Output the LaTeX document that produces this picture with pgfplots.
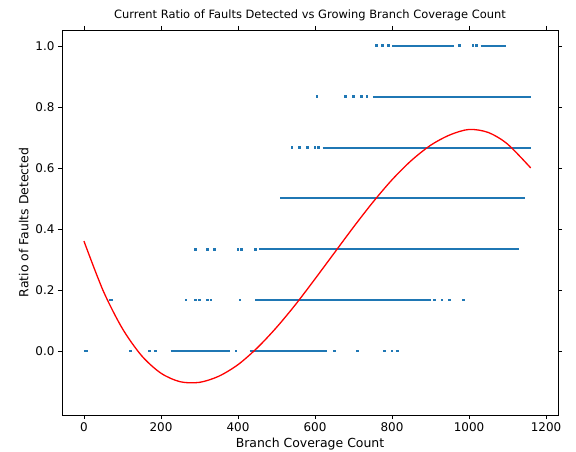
\documentclass[border=0pt]{standalone}
\usepackage{pgfplots}
\pgfplotsset{compat=1.18}
\usepackage{fontspec}
\setmainfont{DejaVu Sans}
\definecolor{cz}{HTML}{1F77B4}
\begin{document}
\begin{tikzpicture}
\begin{axis}[scale only axis, width=496bp, height=385bp,
 xmin=-57, xmax=1231, ymin=-0.21, ymax=1.052,
 xtick={0,200,...,1200}, ytick={0,0.2,...,1.0},
 xticklabel style={/pgf/number format/.cd,1000 sep={}},
 yticklabel style={/pgf/number format/.cd,fixed,fixed zerofill,precision=1},
 /pgf/number format/assume math mode=true,
 tick align=outside, tick style={black}, major tick length=4bp,
 ticklabel style={font=\fontsize{12}{14}\selectfont},
 label style={font=\fontsize{12.5}{14}\selectfont},
 title style={font=\fontsize{11.5}{14}\selectfont},
 title={Current Ratio of Faults Detected vs Growing Branch Coverage Count},
 xlabel={Branch Coverage Count}, ylabel={Ratio of Faults Detected},
 every axis plot/.append style={cz, line width=2bp}]
\coordinate (ll) at (rel axis cs:0,0);
\coordinate (ur) at (rel axis cs:1,1);
% dense bands
\addplot[no marks] coordinates {(0,0) (10,0)};
\addplot[no marks] coordinates {(225,0) (380,0)};
\addplot[no marks] coordinates {(430,0) (630,0)};
\addplot[no marks] coordinates {(65,0.1667) (75,0.1667)};
\addplot[no marks] coordinates {(445,0.1667) (900,0.1667)};
\addplot[no marks] coordinates {(455,0.3333) (1130,0.3333)};
\addplot[no marks] coordinates {(510,0.5) (1145,0.5)};
\addplot[no marks] coordinates {(620,0.6667) (1160,0.6667)};
\addplot[no marks] coordinates {(750,0.8333) (1160,0.8333)};
\addplot[no marks] coordinates {(800,1) (960,1)};
\addplot[no marks] coordinates {(1030,1) (1095,1)};
% sparse points
\addplot[only marks, mark=square*, mark size=0.9bp, line width=0pt] coordinates {
(120,0) (170,0) (185,0) (395,0) (650,0) (710,0) (780,0) (800,0) (815,0)
(265,0.1667) (290,0.1667) (300,0.1667) (320,0.1667) (330,0.1667) (405,0.1667) (910,0.1667) (930,0.1667) (950,0.1667) (985,0.1667)
(290,0.3333) (320,0.3333) (340,0.3333) (400,0.3333) (410,0.3333) (445,0.3333)
(540,0.6667) (560,0.6667) (580,0.6667) (600,0.6667) (610,0.6667)
(605,0.8333) (680,0.8333) (700,0.8333) (720,0.8333) (735,0.8333)
(760,1) (775,1) (790,1) (975,1) (1010,1) (1020,1)};
% fitted curve
\addplot[red, line width=1.3bp, smooth, no marks] coordinates {
(0,0.36) (50,0.197) (100,0.073) (150,-0.016) (200,-0.073) (250,-0.101) (300,-0.103)
(350,-0.083) (400,-0.045) (450,0.010) (500,0.077) (550,0.153) (600,0.236) (650,0.321)
(700,0.406) (750,0.487) (800,0.561) (850,0.624) (900,0.674) (950,0.708) (1000,0.726)
(1050,0.716) (1100,0.678) (1160,0.600)};
\end{axis}
\pgfresetboundingbox
\path ([shift={(-62bp,-37bp)}]ll) rectangle ([shift={(18bp,30bp)}]ur);
\end{tikzpicture}
\end{document}
